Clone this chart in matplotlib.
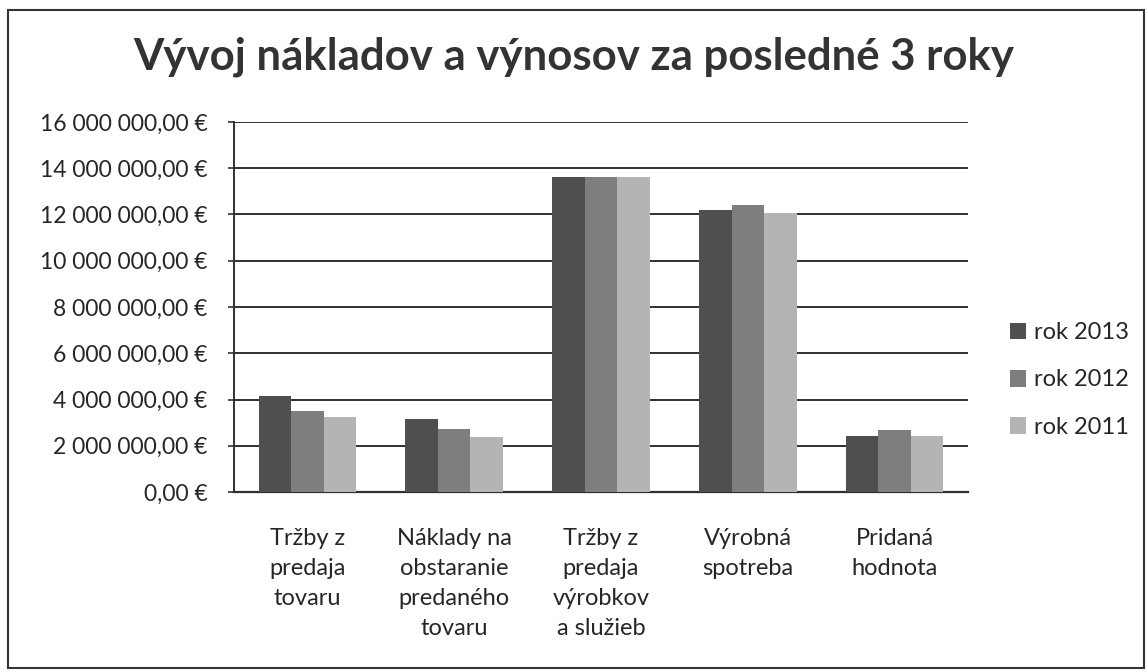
import matplotlib
matplotlib.use("Agg")
import matplotlib.pyplot as plt
import numpy as np
from matplotlib.patches import Rectangle
from matplotlib.ticker import FuncFormatter

categories = ["Tržby z\npredaja\ntovaru",
              "Náklady na\nobstaranie\npredaného\ntovaru",
              "Tržby z\npredaja\nvýrobkov\na služieb",
              "Výrobná\nspotreba",
              "Pridaná\nhodnota"]
series_names = ["rok 2013", "rok 2012", "rok 2011"]
rok_2013 = [4150000, 3150000, 13600000, 12200000, 2420000]
rok_2012 = [3520000, 2720000, 13600000, 12400000, 2680000]
rok_2011 = [3230000, 2400000, 13600000, 12050000, 2420000]
colors = ["#4f4f4f", "#7e7e7e", "#b4b4b4"]
title = "Vývoj nákladov a výnosov za posledné 3 roky"

plt.rcParams['font.family'] = ['Lato', 'DejaVu Sans']
txt = "#262626"

fig = plt.figure(figsize=(11.48, 6.72), dpi=100)
fig.patch.set_facecolor("white")
ax = fig.add_axes([234/1148, 1-492/672, (968-234)/1148, (492-122)/672])

x = np.arange(len(categories))
w = 0.222
for i, (vals, name) in enumerate(zip([rok_2013, rok_2012, rok_2011], series_names)):
    ax.bar(x + (i-1)*w, vals, width=w, color=colors[i], label=name, zorder=3)

ax.set_xlim(-0.5, len(categories)-0.5)
ax.set_ylim(0, 16000000)
ax.set_yticks(np.arange(0, 16000001, 2000000))
def fmt(v, pos):
    s = f"{int(v):,}".replace(",", " ")
    return s + ",00 €"
ax.yaxis.set_major_formatter(FuncFormatter(fmt))
ax.grid(axis='y', color="#303030", linewidth=1.4, zorder=1)
ax.set_axisbelow(True)
for s in ["top", "right"]:
    ax.spines[s].set_visible(False)
ax.spines["left"].set_color("#303030")
ax.spines["left"].set_linewidth(1.4)
ax.spines["bottom"].set_color("#303030")
ax.spines["bottom"].set_linewidth(1.6)
ax.tick_params(axis='y', length=4, width=1.2, color="#303030", pad=15, labelsize=16.5, labelcolor=txt)
ax.set_xticks(x)
ax.set_xticklabels(categories, fontsize=17, color=txt, linespacing=1.52, va='top')
ax.tick_params(axis='x', length=0, pad=26)

fig.text(0.5, 1-57/672, title, ha='center', va='center', fontsize=31.5,
         fontweight='bold', color="#333333")

leg = fig.legend(loc='center left', bbox_to_anchor=(0.861, 1-380/672),
                 frameon=False, fontsize=17, handlelength=0.7, handleheight=0.7,
                 handletextpad=0.35, labelspacing=1.12, labelcolor=txt)

fig.add_artist(Rectangle((8/1148, 1-668/672), 1136/1148, 658/672,
                         transform=fig.transFigure, fill=False,
                         edgecolor="#333333", linewidth=1.5))

fig.savefig("out.png", dpi=100)
